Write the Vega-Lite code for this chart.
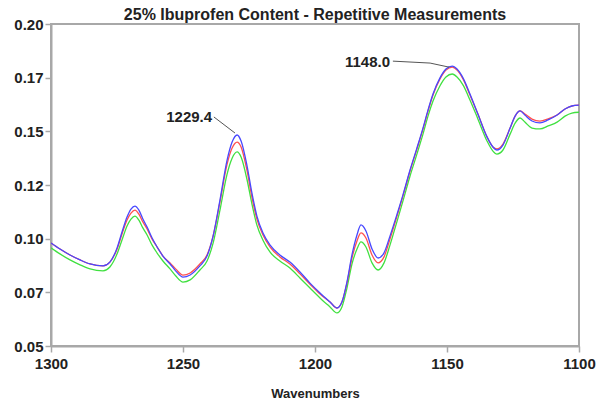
{
  "$schema": "https://vega.github.io/schema/vega-lite/v6.json",
  "width": 528,
  "height": 322,
  "autosize": {"type": "none"},
  "padding": {"left": 51, "top": 24, "right": 23, "bottom": 58},
  "background": "white",
  "title": {
    "text": "25% Ibuprofen Content - Repetitive Measurements",
    "font": "Liberation Sans",
    "fontSize": 16,
    "fontWeight": "bold",
    "color": "#222222",
    "anchor": "middle",
    "offset": 4,
    "dy": 10
  },
  "config": {
    "view": {"stroke": "#a8a8a8", "strokeWidth": 2},
    "axis": {
      "labelFont": "Liberation Sans",
      "labelFontSize": 15,
      "labelFontWeight": "bold",
      "labelColor": "#222222",
      "titleFont": "Liberation Sans",
      "titleFontSize": 13,
      "titleFontWeight": "bold",
      "titleColor": "#222222",
      "domainColor": "#a8a8a8",
      "domainWidth": 2,
      "tickColor": "#a8a8a8",
      "tickWidth": 1.5,
      "tickSize": 6,
      "grid": false
    }
  },
  "datasets": {
    "spectra": [
      {"w": 1300.0, "b": 0.0980, "r": 0.0980, "g": 0.0957},
      {"w": 1296.6, "b": 0.0952, "r": 0.0952, "g": 0.0929},
      {"w": 1292.8, "b": 0.0924, "r": 0.0924, "g": 0.0901},
      {"w": 1289.0, "b": 0.0901, "r": 0.0901, "g": 0.0878},
      {"w": 1285.2, "b": 0.0882, "r": 0.0882, "g": 0.0859},
      {"w": 1280.3, "b": 0.0873, "r": 0.0873, "g": 0.0850},
      {"w": 1277.7, "b": 0.0891, "r": 0.0891, "g": 0.0868},
      {"w": 1275.0, "b": 0.0956, "r": 0.0951, "g": 0.0928},
      {"w": 1273.1, "b": 0.1031, "r": 0.1022, "g": 0.0994},
      {"w": 1271.2, "b": 0.1101, "r": 0.1087, "g": 0.1059},
      {"w": 1269.7, "b": 0.1138, "r": 0.1119, "g": 0.1091},
      {"w": 1268.2, "b": 0.1152, "r": 0.1133, "g": 0.1105},
      {"w": 1266.7, "b": 0.1133, "r": 0.1114, "g": 0.1086},
      {"w": 1265.2, "b": 0.1092, "r": 0.1078, "g": 0.1050},
      {"w": 1263.6, "b": 0.1054, "r": 0.1045, "g": 0.1017},
      {"w": 1261.7, "b": 0.1003, "r": 0.0998, "g": 0.0970},
      {"w": 1259.8, "b": 0.0961, "r": 0.0961, "g": 0.0933},
      {"w": 1257.6, "b": 0.0919, "r": 0.0919, "g": 0.0896},
      {"w": 1254.9, "b": 0.0882, "r": 0.0887, "g": 0.0859},
      {"w": 1252.7, "b": 0.0849, "r": 0.0858, "g": 0.0826},
      {"w": 1250.0, "b": 0.0821, "r": 0.0830, "g": 0.0798},
      {"w": 1247.3, "b": 0.0831, "r": 0.0840, "g": 0.0808},
      {"w": 1243.6, "b": 0.0873, "r": 0.0882, "g": 0.0854},
      {"w": 1240.9, "b": 0.0919, "r": 0.0924, "g": 0.0896},
      {"w": 1238.6, "b": 0.1012, "r": 0.1012, "g": 0.0979},
      {"w": 1236.0, "b": 0.1180, "r": 0.1171, "g": 0.1133},
      {"w": 1233.3, "b": 0.1366, "r": 0.1347, "g": 0.1301},
      {"w": 1231.4, "b": 0.1450, "r": 0.1422, "g": 0.1375},
      {"w": 1229.5, "b": 0.1483, "r": 0.1450, "g": 0.1404},
      {"w": 1228.0, "b": 0.1455, "r": 0.1427, "g": 0.1380},
      {"w": 1225.8, "b": 0.1343, "r": 0.1320, "g": 0.1278},
      {"w": 1223.9, "b": 0.1213, "r": 0.1194, "g": 0.1162},
      {"w": 1222.0, "b": 0.1105, "r": 0.1091, "g": 0.1063},
      {"w": 1219.7, "b": 0.1026, "r": 0.1017, "g": 0.0993},
      {"w": 1217.0, "b": 0.0970, "r": 0.0961, "g": 0.0937},
      {"w": 1213.3, "b": 0.0924, "r": 0.0915, "g": 0.0896},
      {"w": 1209.5, "b": 0.0891, "r": 0.0882, "g": 0.0863},
      {"w": 1205.7, "b": 0.0845, "r": 0.0836, "g": 0.0817},
      {"w": 1201.9, "b": 0.0793, "r": 0.0788, "g": 0.0770},
      {"w": 1198.1, "b": 0.0747, "r": 0.0742, "g": 0.0724},
      {"w": 1194.3, "b": 0.0705, "r": 0.0705, "g": 0.0682},
      {"w": 1191.7, "b": 0.0677, "r": 0.0677, "g": 0.0654},
      {"w": 1189.8, "b": 0.0705, "r": 0.0705, "g": 0.0682},
      {"w": 1187.9, "b": 0.0798, "r": 0.0793, "g": 0.0770},
      {"w": 1186.0, "b": 0.0924, "r": 0.0910, "g": 0.0882},
      {"w": 1184.1, "b": 0.1017, "r": 0.0989, "g": 0.0952},
      {"w": 1182.6, "b": 0.1064, "r": 0.1027, "g": 0.0985},
      {"w": 1180.7, "b": 0.1036, "r": 0.1003, "g": 0.0961},
      {"w": 1178.4, "b": 0.0952, "r": 0.0924, "g": 0.0887},
      {"w": 1176.1, "b": 0.0910, "r": 0.0887, "g": 0.0854},
      {"w": 1173.9, "b": 0.0933, "r": 0.0914, "g": 0.0886},
      {"w": 1171.6, "b": 0.1012, "r": 0.0998, "g": 0.0970},
      {"w": 1168.9, "b": 0.1115, "r": 0.1106, "g": 0.1082},
      {"w": 1166.7, "b": 0.1203, "r": 0.1198, "g": 0.1175},
      {"w": 1164.0, "b": 0.1320, "r": 0.1315, "g": 0.1292},
      {"w": 1161.4, "b": 0.1422, "r": 0.1417, "g": 0.1394},
      {"w": 1159.1, "b": 0.1515, "r": 0.1510, "g": 0.1487},
      {"w": 1157.2, "b": 0.1599, "r": 0.1594, "g": 0.1571},
      {"w": 1155.3, "b": 0.1674, "r": 0.1669, "g": 0.1641},
      {"w": 1152.7, "b": 0.1748, "r": 0.1743, "g": 0.1711},
      {"w": 1150.4, "b": 0.1790, "r": 0.1785, "g": 0.1753},
      {"w": 1148.0, "b": 0.1804, "r": 0.1799, "g": 0.1767},
      {"w": 1146.2, "b": 0.1790, "r": 0.1785, "g": 0.1753},
      {"w": 1143.9, "b": 0.1748, "r": 0.1743, "g": 0.1715},
      {"w": 1141.3, "b": 0.1674, "r": 0.1669, "g": 0.1646},
      {"w": 1138.3, "b": 0.1581, "r": 0.1581, "g": 0.1558},
      {"w": 1134.8, "b": 0.1473, "r": 0.1473, "g": 0.1454},
      {"w": 1132.6, "b": 0.1427, "r": 0.1427, "g": 0.1408},
      {"w": 1131.1, "b": 0.1413, "r": 0.1418, "g": 0.1394},
      {"w": 1128.8, "b": 0.1436, "r": 0.1441, "g": 0.1413},
      {"w": 1126.1, "b": 0.1515, "r": 0.1515, "g": 0.1487},
      {"w": 1124.2, "b": 0.1571, "r": 0.1571, "g": 0.1538},
      {"w": 1122.3, "b": 0.1595, "r": 0.1595, "g": 0.1562},
      {"w": 1120.5, "b": 0.1576, "r": 0.1581, "g": 0.1543},
      {"w": 1117.8, "b": 0.1548, "r": 0.1557, "g": 0.1515},
      {"w": 1114.8, "b": 0.1539, "r": 0.1548, "g": 0.1511},
      {"w": 1111.7, "b": 0.1553, "r": 0.1558, "g": 0.1525},
      {"w": 1108.3, "b": 0.1576, "r": 0.1576, "g": 0.1543},
      {"w": 1105.3, "b": 0.1604, "r": 0.1604, "g": 0.1571},
      {"w": 1102.7, "b": 0.1618, "r": 0.1618, "g": 0.1585},
      {"w": 1100.0, "b": 0.1622, "r": 0.1622, "g": 0.1589}
    ],
    "labels": [
      {"w": 1238.6, "v": 0.1567, "label": "1229.4"},
      {"w": 1171.2, "v": 0.1823, "label": "1148.0"}
    ],
    "leaders": [
      {"id": "a", "w": 1238.3, "v": 0.1567},
      {"id": "a", "w": 1230.3, "v": 0.1492},
      {"id": "b", "w": 1170.5, "v": 0.1827},
      {"id": "b", "w": 1156.4, "v": 0.1818},
      {"id": "b", "w": 1149.2, "v": 0.1799}
    ]
  },
  "layer": [
    {
      "data": {"name": "spectra"},
      "transform": [{"fold": ["g", "r", "b"], "as": ["series", "value"]}],
      "mark": {"type": "line", "strokeWidth": 1.3, "interpolate": "monotone", "clip": true},
      "encoding": {
        "x": {
          "field": "w",
          "type": "quantitative",
          "scale": {"domain": [1100, 1300], "reverse": true, "nice": false, "zero": false},
          "axis": {
            "title": "Wavenumbers",
            "values": [1300, 1250, 1200, 1150, 1100],
            "format": "d",
            "labelPadding": 4,
            "titlePadding": 16,
            "labelFlush": false
          }
        },
        "y": {
          "field": "value",
          "type": "quantitative",
          "scale": {"domain": [0.05, 0.2], "nice": false, "zero": false},
          "axis": {
            "title": null,
            "values": [0.05, 0.075, 0.1, 0.125, 0.15, 0.175, 0.2],
            "labelExpr": "format(floor(datum.value * 100 + 0.001) / 100, '.2f')",
            "labelPadding": 2,
            "labelFlush": false
          }
        },
        "color": {
          "field": "series",
          "type": "nominal",
          "scale": {"domain": ["g", "r", "b"], "range": ["#40e040", "#ff5050", "#4848ff"]},
          "legend": null
        },
        "order": {"field": "series", "sort": "descending"}
      }
    },
    {
      "data": {"name": "leaders"},
      "mark": {"type": "line", "color": "#555555", "strokeWidth": 1},
      "encoding": {
        "x": {"field": "w", "type": "quantitative"},
        "y": {"field": "v", "type": "quantitative"},
        "detail": {"field": "id"}
      }
    },
    {
      "data": {"name": "labels"},
      "mark": {
        "type": "text",
        "align": "right",
        "baseline": "middle",
        "font": "Liberation Sans",
        "fontSize": 15,
        "fontWeight": "bold",
        "color": "#222222",
        "dx": -1
      },
      "encoding": {
        "x": {"field": "w", "type": "quantitative"},
        "y": {"field": "v", "type": "quantitative"},
        "text": {"field": "label"}
      }
    }
  ]
}
